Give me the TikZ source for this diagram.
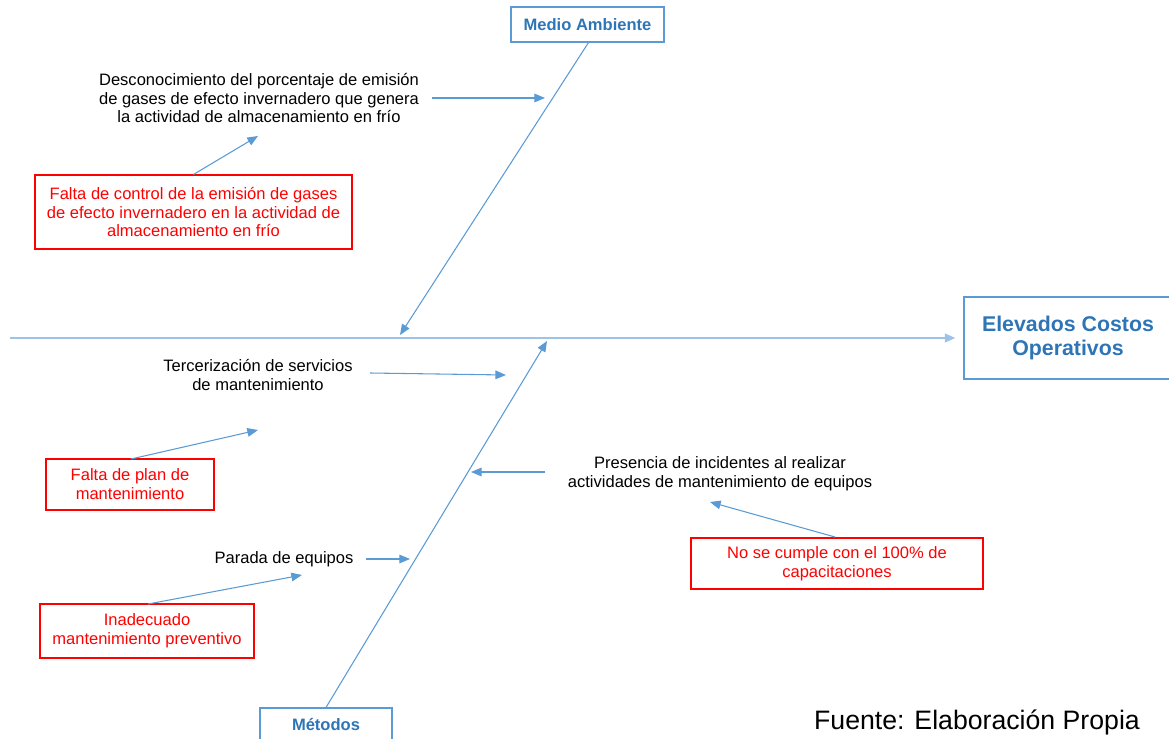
\documentclass[tikz,border=0pt]{standalone}
\usepackage{fontspec}
\setmainfont{Liberation Sans}
\usepackage{tikz}
\usetikzlibrary{calc}
\usetikzlibrary{arrows.meta}
\definecolor{espina}{HTML}{9DC3E6}
\definecolor{hueso}{HTML}{5B9BD5}
\definecolor{titulo}{HTML}{2E75B6}
\tikzset{
  categoria/.style={draw=hueso, thick, text=titulo, font=\bfseries\fontsize{12.4}{14}\selectfont, align=center},
  causa/.style={draw=red, thick, text=red, font=\fontsize{12.4}{14.2}\selectfont, align=center},
  subcausa/.style={font=\fontsize{12.4}{14.2}\selectfont, align=center},
  flecha/.style={draw=hueso, thick, -{Triangle[length=8pt,width=6.5pt]}}
}
\newcommand{\flecha}[2]{\draw[flecha] #1 -- #2;}

\begin{document}
\begin{tikzpicture}[x=0.75pt, y=-0.75pt]
        \useasboundingbox (0,0) rectangle (1169,738);
        % espina central
        \node[categoria, font=\bfseries\fontsize{16}{18}\selectfont, minimum width=156pt, minimum height=61.5pt] (efecto) at (1068,338) {Elevados Costos\\Operativos};
        \coordinate (cola) at (10,338);
        \draw[espina, line width=1.5pt, -{Triangle[length=8pt,width=6.5pt]}, shorten >=6pt] (cola) -- (efecto.west);
        % medio ambiente
        \node[categoria, minimum width=114.75pt, minimum height=26.25pt] (medio) at (587.5,24.5) {Medio Ambiente};
        \coordinate (ma) at (400,335);
        \draw[flecha] ($(medio.south)+(1,0)$) -- (ma);
        \node[subcausa] (desc) at (259,98) {Desconocimiento del porcentaje de emisión\\de gases de efecto invernadero que genera\\la actividad de almacenamiento en frío};
        \coordinate (ma1) at (545,98);
        \flecha{(432,98)}{(ma1)}
        \node[causa, minimum width=237.75pt, minimum height=55.5pt] (control) at (193.5,212) {Falta de control de la emisión de gases\\de efecto invernadero en la actividad de\\almacenamiento en frío};
        \flecha{(control.north)}{(258,136)}
        % metodos
        \node[categoria, minimum width=99pt, minimum height=25.5pt] (metodos) at (326,725) {Métodos};
        \coordinate (me) at (547,341);
        \draw[flecha] (metodos.north) -- (me);
        % row 1
        \node[subcausa] (terce) at (258,375) {Tercerización de servicios\\de mantenimiento};
        \coordinate (me1) at (506,375);
        \flecha{(370,373)}{(me1)}
        \node[causa, minimum width=126pt, minimum height=38.25pt] (plan) at (130,484.5) {Falta de plan de\\mantenimiento};
        \flecha{(131,459)}{(258,430)}
        % row 2
        \node[subcausa] (incid) at (720,474) {Presencia de incidentes al realizar\\actividades de mantenimiento de equipos};
        \coordinate (me2) at (471,472);
        \flecha{(545,472)}{(me2)}
        \node[causa, minimum width=219pt, minimum height=38.25pt] (capac) at (837,563.5) {No se cumple con el 100\% de\\capacitaciones};
        \flecha{(835,537)}{(710,502)}
        % row 3
        \node[subcausa] (parada) at (284,559) {Parada de equipos};
        \coordinate (me3) at (410,559);
        \flecha{(366,559)}{(me3)}
        \node[causa, minimum width=160.5pt, minimum height=40.5pt] (preven) at (147,631) {Inadecuado\\mantenimiento preventivo};
        \flecha{(148,604)}{(302,575)}
        % fuente
        \node[font=\fontsize{20}{24}\selectfont] (fuente) at (977,722) {Fuente: Elaboración Propia};
    \end{tikzpicture}
\end{document}
